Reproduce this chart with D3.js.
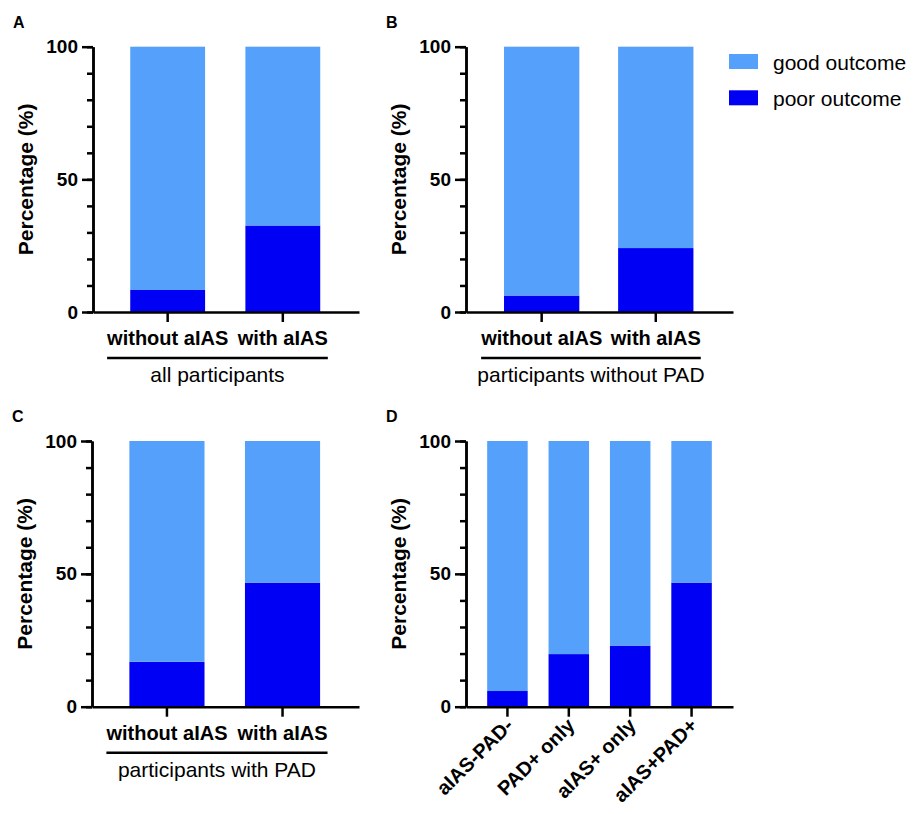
<!DOCTYPE html>
<html lang="en">
<head>
  <meta charset="UTF-8">
  <title>Outcome by aIAS / PAD</title>
  <script src="https://cdn.jsdelivr.net/npm/d3@7"></script>
  <style>
    body { margin: 0; padding: 0; background: #fff; }
    svg { display: block; font-family: "Liberation Sans", Arial, sans-serif; }
    .axis path, .axis line { stroke: #000; stroke-width: 2.5px; }
    .axis text { fill: #000; font-weight: bold; }
  </style>
</head>
<body>
<div id="chart"></div>
<script>
// categories
var catsPair = ["without aIAS", "with aIAS"];
var catsD = ["aIAS-PAD-", "PAD+ only", "aIAS+ only", "aIAS+PAD+"];

// percentage with poor / good outcome
var poorA = [8.3, 32.6];
var goodA = [91.7, 67.4];
var poorB = [6.2, 24.1];
var goodB = [93.8, 75.9];
var poorC = [16.9, 46.7];
var goodC = [83.1, 53.3];
var poorD = [5.9, 19.8, 23.0, 46.7];
var goodD = [94.1, 80.2, 77.0, 53.3];

var seriesNames = ["good outcome", "poor outcome"];
var yMajor = [0, 50, 100];
var yMinor = d3.range(0, 101, 10);

var colGood = "#55a0fa";
var colPoor = "#0000f5";

var W = 914, H = 814;
var svg = d3.select("#chart").append("svg")
    .attr("width", W)
    .attr("height", H);

function panel(opt) {
  var g = svg.append("g");

  var y = d3.scaleLinear().domain([0, 100]).range([opt.bottom, opt.top]);
  var x = d3.scaleBand()
      .domain(opt.cats)
      .range([opt.left, opt.right])
      .paddingInner(opt.pin)
      .paddingOuter(opt.pout)
      .align(opt.align);

  var rows = opt.cats.map(function(c, i) {
    return {cat: c, poor: opt.poor[i], good: opt.good[i]};
  });
  var stacked = d3.stack().keys(["poor", "good"])(rows);

  g.selectAll("g.layer")
    .data(stacked)
    .enter().append("g")
      .attr("class", "layer")
      .attr("fill", function(d) { return d.key == "poor" ? colPoor : colGood; })
    .selectAll("rect")
    .data(function(d) { return d; })
    .enter().append("rect")
      .attr("x", function(d) { return x(d.data.cat); })
      .attr("width", x.bandwidth())
      .attr("y", function(d) { return y(d[1]); })
      .attr("height", function(d) { return y(d[0]) - y(d[1]); });

  // y axis: minor ticks then major
  g.append("g")
      .attr("class", "axis")
      .attr("transform", "translate(" + opt.left + ",0)")
      .call(d3.axisLeft(y).tickValues(yMinor).tickSize(6).tickSizeOuter(0).tickFormat(""));
  var ya = g.append("g")
      .attr("class", "axis")
      .attr("transform", "translate(" + opt.left + ",0)")
      .call(d3.axisLeft(y).tickValues(yMajor).tickSize(11).tickSizeOuter(0).tickPadding(4));
  ya.selectAll("text").style("font-size", "19px");

  // x axis
  var xa = g.append("g")
      .attr("class", "axis")
      .attr("transform", "translate(0," + opt.bottom + ")")
      .call(d3.axisBottom(x).tickSize(10).tickSizeOuter(0).tickPadding(9));
  xa.selectAll("text").style("font-size", "20px");

  if (opt.rotate) {
    xa.selectAll("text")
      .attr("text-anchor", "end")
      .attr("y", 0)
      .attr("dy", null)
      .attr("transform", "translate(7,20) rotate(-45)");
  }

  // y title
  g.append("text")
      .attr("transform", "translate(" + (opt.left - 68) + "," + ((opt.top + opt.bottom) / 2) + ") rotate(-90)")
      .attr("text-anchor", "middle")
      .attr("dy", "0.36em")
      .style("font-size", "21px")
      .style("font-weight", "bold")
      .text("Percentage (%)");

  // panel letter
  g.append("text")
      .attr("x", opt.left - 80)
      .attr("y", opt.top - 19)
      .style("font-size", "16px")
      .style("font-weight", "bold")
      .text(opt.label);

  // group bracket under the labels
  if (opt.subtitle) {
    var lo = Infinity, hi = -Infinity;
    xa.selectAll("text").each(function(d) {
      var w = this.getComputedTextLength();
      var c = x(d) + x.bandwidth() / 2;
      lo = Math.min(lo, c - w / 2);
      hi = Math.max(hi, c + w / 2);
    });
    g.append("line")
        .attr("x1", lo).attr("x2", hi)
        .attr("y1", opt.bottom + 46).attr("y2", opt.bottom + 46)
        .attr("stroke", "#000")
        .attr("stroke-width", 2.5);
    g.append("text")
        .attr("x", (lo + hi) / 2)
        .attr("y", opt.bottom + 70)
        .attr("text-anchor", "middle")
        .style("font-size", "21px")
        .text(opt.subtitle);
  }
}

panel({label: "A", cats: catsPair, poor: poorA, good: goodA,
       left: 93, right: 359, top: 46.7, bottom: 312,
       pin: 0.35, pout: 0.33, align: 0.49, subtitle: "all participants"});
panel({label: "B", cats: catsPair, poor: poorB, good: goodB,
       left: 466, right: 733, top: 46.7, bottom: 312,
       pin: 0.34, pout: 0.34, align: 0.49, subtitle: "participants without PAD"});
panel({label: "C", cats: catsPair, poor: poorC, good: goodC,
       left: 92, right: 359, top: 441, bottom: 706.7,
       pin: 0.35, pout: 0.33, align: 0.49, subtitle: "participants with PAD"});
panel({label: "D", cats: catsD, poor: poorD, good: goodD,
       left: 466, right: 733, top: 441, bottom: 706.7,
       pin: 0.34, pout: 0.345, align: 0.5, rotate: true});

// legend
var leg = svg.append("g").attr("transform", "translate(729,54)");
var legItems = leg.selectAll("g")
    .data(seriesNames)
    .enter().append("g")
      .attr("transform", function(d, i) { return "translate(0," + (i * 36.3) + ")"; });
legItems.append("rect")
    .attr("width", 29)
    .attr("height", 15)
    .attr("fill", function(d, i) { return i == 0 ? colGood : colPoor; });
legItems.append("text")
    .attr("x", 44)
    .attr("y", 16)
    .style("font-size", "21px")
    .text(function(d) { return d; });
</script>
</body>
</html>
